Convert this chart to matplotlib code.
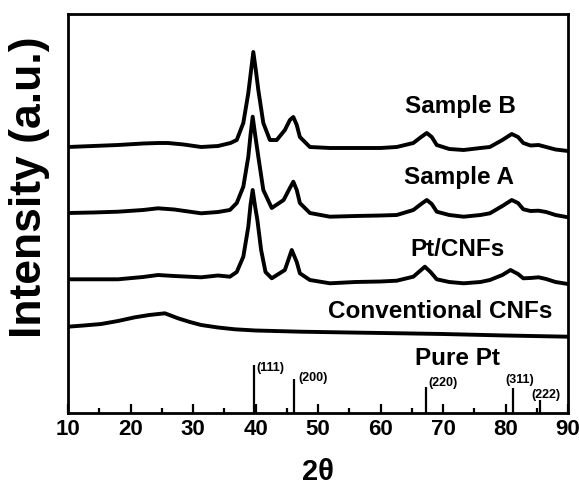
#!/usr/bin/env python3
#
# XRD patterns of Pt catalysts on carbon nanofibers
#

import matplotlib
matplotlib.use('Agg')
import matplotlib.pyplot as plt
import matplotlib.ticker

# Values (2theta in degrees, intensity in arbitrary units)
sample_b_2theta = [10, 14, 18, 22, 24.4, 26, 28.5, 31.3, 34, 36, 37, 38.05, 38.85, 39.3,
                   39.65, 40.05, 40.45, 41.25, 42.3, 43.4, 44.7, 45.5, 46.05, 46.6, 47.1,
                   48.7, 51.9, 56, 60, 62.6, 65.25, 66.5, 67.4, 68.2, 69, 71, 73.3, 76,
                   77.5, 79.5, 81, 82, 82.85, 84, 85.3, 86.5, 88, 90]
sample_b_int = [266, 267, 268, 269.5, 270, 270, 268.5, 266, 267, 270, 273, 290, 320, 343,
                361, 343, 323, 290, 273, 273, 283, 293, 296, 288, 276,
                266, 265, 265, 265, 266, 270, 276, 280, 276, 268, 264, 263, 265,
                266, 273, 279, 276, 270, 267.5, 268, 266, 263.5, 262]

sample_a_2theta = [10, 14, 18, 22, 24.4, 27, 31.3, 34, 35.9, 37, 38.05, 38.85, 39.2, 39.55,
                   39.95, 40.45, 41.25, 42.6, 44.5, 45.5, 46.05, 46.6, 47.1, 48.7, 51.9,
                   56, 60, 62.6, 65.25, 66.5, 67.4, 68.2, 69, 71, 73.3, 76, 77.5, 79.5,
                   81, 82, 82.85, 84, 85.3, 86.5, 88, 90]
sample_a_int = [200, 200.5, 201.3, 203, 204.7, 203.5, 199.7, 201, 203, 210, 226.3, 256.3,
                278, 296.3, 278, 256.3, 223, 205, 213, 225, 231.3, 223, 210, 200, 196.3,
                197, 197.5, 198, 203, 209, 213, 209, 201.3, 198, 196.3, 198, 199.7, 207,
                213, 210, 203.7, 202, 202.3, 201, 198, 195.7]

pt_cnf_2theta = [10, 14, 18, 22, 24.4, 27, 31.3, 34, 35.9, 37, 38.05, 38.85, 39.2, 39.55,
                 39.9, 40.3, 40.9, 41.6, 42.6, 44.7, 45.8, 46.6, 47.1, 48.7, 51.9, 56,
                 60, 62.6, 65.25, 67.1, 68, 69, 71, 73.3, 76, 77.5, 79.5, 80.8, 82,
                 82.85, 84, 85.3, 86.5, 88, 90]
pt_cnf_int = [133.7, 133.7, 133.7, 136, 138, 137, 135.7, 137.5, 136.3, 141, 156.3, 186.3,
              208, 223, 208, 193, 163, 141, 134.7, 143, 163, 151, 139.7, 133, 129.7, 131,
              131.5, 132.3, 136.3, 146.3, 141, 133.7, 131, 129.7, 131, 133, 138, 143, 139,
              134.7, 135, 135.7, 134, 131, 129]

conv_cnf_2theta = [10, 12.5, 15.3, 18, 20.7, 23, 25.5, 27.6, 29.5, 31.3, 34, 36.7, 40,
                   47.3, 55, 63.3, 70, 80, 90]
conv_cnf_int = [86.3, 87.5, 89, 92, 95.7, 98, 99.7, 94.7, 91, 88, 85.5, 83.7, 82.5,
                81.3, 80.5, 79.7, 79, 77.5, 76.3]

# Reference pattern of pure Pt
pt_ref_2theta = [39.76, 46.16, 67.3, 81.15, 85.5]
pt_ref_int = [48, 33.7, 26, 25.3, 13]
pt_ref_hkl = ['(111)', '(200)', '(220)', '(311)', '(222)']

curve_names = ['Sample B', 'Sample A', 'Pt/CNFs', 'Conventional CNFs', 'Pure Pt']

# Placement of the text on the chart (data coordinates)
name_pos = [(72.8, 300), (72.5, 229), (72.3, 157), (69.5, 95), (72.3, 48)]
hkl_pos = [(40.1, 45, 'left'), (46.8, 35, 'left'), (67.6, 30, 'left'),
           (82.2, 33, 'center'), (86.5, 18, 'center')]


def plot_xrd():
    plt.rcParams['font.family'] = ['Liberation Sans', 'DejaVu Sans']
    plt.rcParams['font.weight'] = 'bold'

    fig = plt.figure(figsize=(5.79, 4.87), dpi=100)
    ax = fig.add_axes([68 / 579, 74 / 487, 500 / 579, 399 / 487])

    lw = 2.8
    ax.plot(sample_b_2theta, sample_b_int, color='black', lw=lw)
    ax.plot(sample_a_2theta, sample_a_int, color='black', lw=lw)
    ax.plot(pt_cnf_2theta, pt_cnf_int, color='black', lw=lw)
    ax.plot(conv_cnf_2theta, conv_cnf_int, color='black', lw=lw)
    ax.vlines(pt_ref_2theta, 0, pt_ref_int, color='black', lw=1.6)

    for name, (x, y) in zip(curve_names, name_pos):
        ax.text(x, y, name, ha='center', va='baseline',
                fontsize=17.5, fontweight='bold')
    for hkl, (x, y, ha) in zip(pt_ref_hkl, hkl_pos):
        ax.text(x, y, hkl, ha=ha, va='center', fontsize=9, fontweight='bold')

    ax.set_xlim(10, 90)
    ax.set_ylim(0, 399)
    ax.xaxis.set_major_locator(matplotlib.ticker.MultipleLocator(10))
    ax.xaxis.set_minor_locator(matplotlib.ticker.MultipleLocator(5))
    ax.tick_params(axis='x', which='major', direction='in', length=6.5, width=1.6,
                   labelsize=16, pad=4)
    ax.tick_params(axis='x', which='minor', direction='in', length=3.5, width=1.6)
    ax.set_yticks([])
    for label in ax.get_xticklabels():
        label.set_fontweight('bold')
    for spine in ax.spines.values():
        spine.set_linewidth(2)

    ax.set_xlabel('2θ', fontsize=21, fontweight='bold')
    ax.xaxis.set_label_coords(0.5, -0.167)
    ax.xaxis.label.set_va('baseline')
    ax.set_ylabel('Intensity (a.u.)', fontsize=32, fontweight='bold')
    ax.yaxis.set_label_coords(-0.036, 0.565)
    return fig


def main():
    fig = plot_xrd()
    fig.savefig('out.png', dpi=100)


if __name__ == '__main__':
    main()
